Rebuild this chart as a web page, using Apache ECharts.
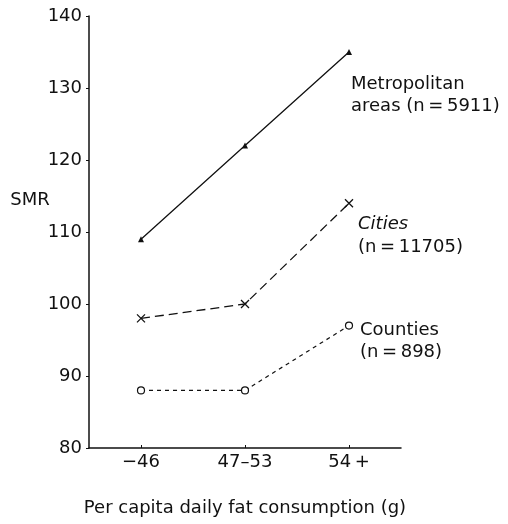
<!DOCTYPE html>
<html>
<head>
<meta charset="utf-8">
<script src="https://cdn.jsdelivr.net/npm/echarts@6/dist/echarts.min.js"></script>
<style>
  html, body { margin: 0; padding: 0; background: #fff; }
  #chart { width: 508px; height: 524px; }
</style>
</head>
<body>
<div id="chart"></div>
<script>
// Fat consumption groups and standardised mortality ratios
const categories = ['\u221246', '47\u201353', '54\u2009+'];
const metropolitan = [109, 122, 135];
const cities = [98, 100, 114];
const counties = [88, 88, 97];
const yTicks = { min: 80, max: 140, interval: 10 };

const FONT = '"DejaVu Sans", "Liberation Sans", Arial, sans-serif';
const INK = '#111';

// cross marker for the cities series
const crossPath = 'path://M0,0 L10,10 M10,0 L0,10';

const chart = echarts.init(document.getElementById('chart'), null, { renderer: 'canvas' });

chart.setOption({
  animation: false,
  backgroundColor: '#fff',
  grid: { left: 89, top: 16, width: 312, height: 432, outerBoundsMode: 'none', containLabel: false },
  xAxis: {
    type: 'category',
    data: categories,
    boundaryGap: true,
    axisLine: { lineStyle: { color: INK, width: 1.5 } },
    axisTick: { show: true, inside: true, length: 3, alignWithLabel: true, lineStyle: { color: INK } },
    axisLabel: { color: INK, fontFamily: FONT, fontSize: 18, margin: 5 },
    name: 'Per capita daily fat consumption (g)',
    nameLocation: 'middle',
    nameGap: 51,
    nameTextStyle: { color: INK, fontFamily: FONT, fontSize: 18 }
  },
  yAxis: {
    type: 'value',
    min: yTicks.min,
    max: yTicks.max,
    interval: yTicks.interval,
    splitLine: { show: false },
    axisLine: { show: true, lineStyle: { color: INK, width: 1.5 } },
    axisTick: { show: true, length: 3, lineStyle: { color: INK } },
    axisLabel: { color: INK, fontFamily: FONT, fontSize: 18, margin: 7 }
  },
  series: [
    {
      name: 'Metropolitan areas',
      type: 'line',
      data: metropolitan,
      symbol: 'triangle',
      symbolSize: 6,
      itemStyle: { color: INK },
      lineStyle: { color: INK, width: 1.3, type: 'solid' }
    },
    {
      name: 'Cities',
      type: 'line',
      data: cities,
      symbol: crossPath,
      symbolSize: 8,
      itemStyle: { color: 'none', borderColor: INK, borderWidth: 1.3 },
      lineStyle: { color: INK, width: 1.3, type: [9, 5] }
    },
    {
      name: 'Counties',
      type: 'line',
      data: counties,
      symbol: 'circle',
      symbolSize: 7,
      itemStyle: { color: '#fff', borderColor: INK, borderWidth: 1.2 },
      lineStyle: { color: INK, width: 1.2, type: [4, 4] }
    }
  ],
  graphic: [
    { type: 'text', x: 30, y: 200, style: { text: 'SMR', fill: INK, font: '18px ' + FONT, align: 'center', verticalAlign: 'middle' } },
    { type: 'text', x: 351, y: 84, style: { text: 'Metropolitan', fill: INK, font: '18px ' + FONT, verticalAlign: 'middle' } },
    { type: 'text', x: 351, y: 106, style: { text: 'areas (n\u2009=\u20095911)', fill: INK, font: '18px ' + FONT, verticalAlign: 'middle' } },
    { type: 'text', x: 358, y: 224, style: { text: 'Cities', fill: INK, font: 'italic 18px ' + FONT, verticalAlign: 'middle' } },
    { type: 'text', x: 358, y: 247, style: { text: '(n\u2009=\u200911705)', fill: INK, font: '18px ' + FONT, verticalAlign: 'middle' } },
    { type: 'text', x: 360, y: 330, style: { text: 'Counties', fill: INK, font: '18px ' + FONT, verticalAlign: 'middle' } },
    { type: 'text', x: 360, y: 352, style: { text: '(n\u2009=\u2009898)', fill: INK, font: '18px ' + FONT, verticalAlign: 'middle' } }
  ]
});
</script>
</body>
</html>
